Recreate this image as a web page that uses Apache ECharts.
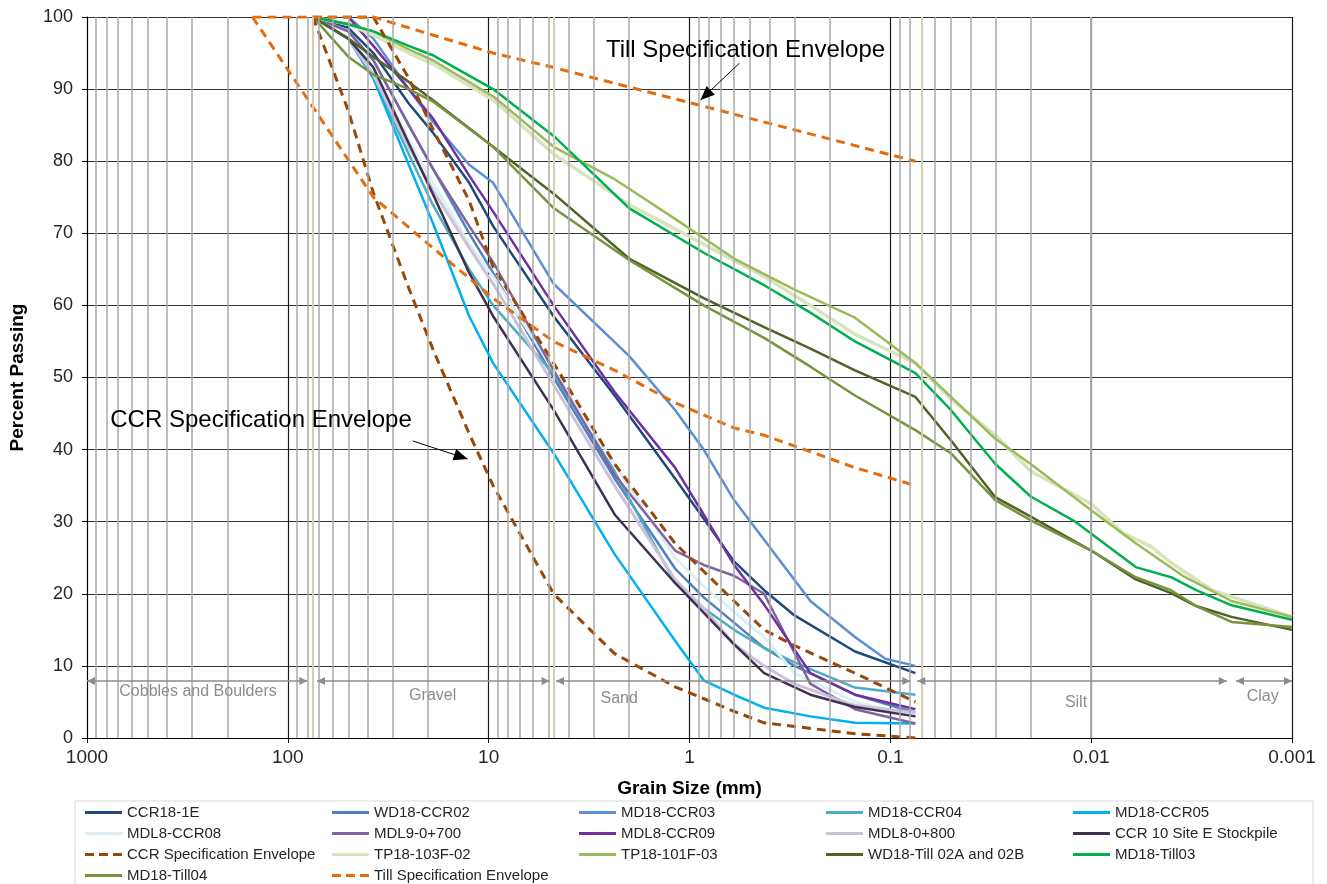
<!DOCTYPE html>
<html>
<head>
<meta charset="utf-8">
<script src="https://cdn.jsdelivr.net/npm/echarts@6/dist/echarts.min.js"></script>
<style>
  html, body { margin: 0; padding: 0; background: #fff; }
  #chart { width: 1327px; height: 884px; }
</style>
</head>
<body>
<div id="chart"></div>
<script>
// [grain size mm, percent passing]
const CCR18_1E = [[75,100],[50,98.5],[37.5,95],[25,88],[19,84],[12.5,77],[9.5,71],[4.75,58.5],[2.36,47.5],[1.18,36],[0.6,24.5],[0.425,20.5],[0.3,17],[0.15,12],[0.075,9]]
const WD18_CCR02 = [[75,100],[50,98],[37.5,94],[25,85],[19,79],[12.5,70],[9.5,64.5],[4.75,50],[2.36,36],[1.18,23.5],[0.85,19.5],[0.6,16],[0.425,12.5],[0.3,10],[0.15,6],[0.075,3.5]]
const MD18_CCR03 = [[50,100],[37.5,97],[25,90],[19,85.5],[12.5,79.5],[9.5,77],[4.75,63],[2,53],[1.18,45.5],[0.85,40],[0.6,33],[0.425,27.5],[0.25,19],[0.15,14],[0.106,11],[0.075,10]]
const MD18_CCR04 = [[75,100],[50,97],[37.5,91.5],[25,81],[19,74],[12.5,65],[9.5,60],[4.75,50.5],[2.36,37],[1.18,21.5],[0.85,18],[0.6,15],[0.425,12.5],[0.3,10.5],[0.15,7],[0.075,6]]
const MD18_CCR05 = [[75,100],[50,97],[37.5,91.5],[25,79.5],[19,71.5],[12.5,58.5],[9.5,52],[4.75,39.5],[2.36,25.5],[1.18,13.5],[0.85,8],[0.6,6],[0.425,4.2],[0.25,3],[0.15,2.1],[0.075,2]]
const MDL8_CCR08 = [[75,100],[50,98],[37.5,93],[25,83],[19,77],[12.5,68.5],[9.5,64],[4.75,51],[2.36,38],[1.18,25],[0.85,21],[0.6,17.5],[0.425,14],[0.3,9],[0.15,5],[0.075,3]]
const MDL9_0700 = [[75,100],[50,98],[37.5,94],[25,85],[19,79],[12.5,71],[9.5,66],[4.75,51],[2.36,36.5],[1.18,26],[0.85,24],[0.6,22.5],[0.425,20],[0.25,7.5],[0.15,4],[0.075,2]]
const MDL8_CCR09 = [[50,100],[37.5,96],[25,90],[19,86],[12.5,78],[9.5,73],[4.75,60],[2.36,48],[1.18,37.5],[0.85,31],[0.6,24],[0.425,18.5],[0.25,9],[0.15,6],[0.075,4]]
const MDL8_0800 = [[75,100],[50,97],[37.5,92],[25,82],[19,76],[12.5,68],[9.5,63],[4.75,49],[2.36,35],[1.18,22],[0.85,18],[0.6,13],[0.425,10],[0.3,7.5],[0.15,4.5],[0.075,3.5]]
const CCR10_STOCKPILE = [[75,100],[50,97],[37.5,93],[25,82.5],[19,75.5],[12.5,64.5],[9.5,58.5],[4.75,45.5],[2.36,31],[1.18,21.5],[0.6,13],[0.425,9],[0.25,6],[0.15,4.3],[0.075,3]]
const CCR_SPEC_UPPER = [[75,100],[37.5,100],[25,91.5],[19,84.5],[12.5,74.5],[9.5,65.3],[4.75,52],[2.36,38],[1.18,27],[0.6,19],[0.425,15],[0.3,12.8],[0.15,9],[0.075,5]]
const CCR_SPEC_LOWER = [[75,100],[50,87],[37.5,75.6],[25,62.4],[19,54],[12.5,42.2],[9.5,35],[4.75,20],[2.36,11.7],[1.18,7.1],[0.6,3.7],[0.425,2.1],[0.3,1.6],[0.15,0.6],[0.075,0]]
const TP18_103F_02 = [[75,100],[50,99],[37.5,97.5],[25,95],[19,93.5],[9.5,88.5],[4.75,81],[2,74],[0.85,68.5],[0.425,64],[0.25,60],[0.15,56],[0.075,52],[0.05,47],[0.03,42],[0.02,37],[0.01,32.5],[0.007,28.5],[0.005,26.5],[0.004,24.3],[0.0025,20.5],[0.001,16.8]]
const TP18_101F_03 = [[75,100],[50,99],[37.5,98],[25,95.5],[19,94],[9.5,89],[4.75,82],[2.36,77.5],[1.18,72],[0.6,66.5],[0.3,62.2],[0.15,58.3],[0.075,52],[0.03,41.5],[0.02,38],[0.01,31.6],[0.006,27],[0.0035,22.5],[0.002,19],[0.001,16.8]]
const WD18_TILL02 = [[75,100],[50,97],[37.5,94.5],[25,91],[19,88.5],[9.5,82],[4.75,75.5],[2,66.5],[0.85,61],[0.425,57],[0.25,54],[0.15,51],[0.075,47.3],[0.05,41.3],[0.03,33.4],[0.02,30.7],[0.01,26],[0.006,22],[0.004,20.1],[0.003,18.3],[0.002,16.8],[0.001,15]]
const MD18_TILL03 = [[75,100],[50,99],[37.5,98],[25,96],[19,94.7],[9.5,90],[4.75,83.5],[2,73.5],[0.85,67.3],[0.425,62.8],[0.25,59],[0.15,55],[0.075,50.6],[0.05,45.5],[0.03,38],[0.02,33.5],[0.012,30],[0.006,23.7],[0.004,22.3],[0.003,20.5],[0.002,18.4],[0.001,16.4]]
const MD18_TILL04 = [[75,100],[50,94.5],[37.5,92],[25,90],[19,88.3],[9.5,82],[4.75,73.5],[2,66.3],[0.85,60],[0.425,55.5],[0.25,51.5],[0.15,47.5],[0.075,42.7],[0.05,39.5],[0.03,33],[0.02,30.2],[0.01,26],[0.006,22.3],[0.004,20.5],[0.003,18.3],[0.002,16.1],[0.001,15.4]]
const TILL_SPEC_UPPER = [[150,100],[37.5,100],[19,97.5],[9.5,95],[4.75,93],[0.075,80]]
const TILL_SPEC_LOWER = [[150,100],[75,87.5],[37.5,75],[19,68],[9.5,61],[4.75,55],[2.36,51],[1.18,46.5],[0.6,43],[0.425,42],[0.3,40.5],[0.15,37.5],[0.075,35]]

// soil class limits (mm) and labels
const classBounds = [75, 4.75, 0.075, 0.002]
const classNames = ['Cobbles and Boulders', 'Gravel', 'Sand', 'Silt', 'Clay']
const classSpans = [[1000, 80], [71.6, 4.97], [4.62, 0.0795], [0.0735, 0.00211], [0.0019, 0.001]]
const classLabelAt = [[280, 6.4], [19, 5.9], [2.24, 5.5], [0.0119, 4.85], [0.0014, 5.7]]
const classArrowLevel = 7.9

// callouts: text anchor, arrow start, arrow tip  [mm, %]
const callouts = [
  {text: 'Till Specification Envelope', at: [0.526, 95.4], from: [0.564, 93.6], to: [0.881, 88.5]},
  {text: 'CCR Specification Envelope', at: [136, 44], from: [23.9, 41.2], to: [12.72, 38.7]}
]

const FONT = '"Liberation Sans", Arial, sans-serif'

const seriesDefs = [
  {name: 'CCR18-1E', data: CCR18_1E, color: '#1f497d'},
  {name: 'WD18-CCR02', data: WD18_CCR02, color: '#4f81bd'},
  {name: 'MD18-CCR03', data: MD18_CCR03, color: '#5a8fd6'},
  {name: 'MD18-CCR04', data: MD18_CCR04, color: '#4bacc6'},
  {name: 'MD18-CCR05', data: MD18_CCR05, color: '#00b0f0'},
  {name: 'MDL8-CCR08', data: MDL8_CCR08, color: '#dbeef4', width: 3},
  {name: 'MDL9-0+700', data: MDL9_0700, color: '#8064a2'},
  {name: 'MDL8-CCR09', data: MDL8_CCR09, color: '#7030a0'},
  {name: 'MDL8-0+800', data: MDL8_0800, color: '#ccc1da', width: 3},
  {name: 'CCR 10 Site E Stockpile', data: CCR10_STOCKPILE, color: '#403151'},
  {name: 'TP18-103F-02', data: TP18_103F_02, color: '#d7e4bd', width: 3.5},
  {name: 'TP18-101F-03', data: TP18_101F_03, color: '#9bbb59'},
  {name: 'WD18-Till 02A and 02B', data: WD18_TILL02, color: '#4f6228'},
  {name: 'MD18-Till03', data: MD18_TILL03, color: '#00b050'},
  {name: 'MD18-Till04', data: MD18_TILL04, color: '#77933c'},
  {name: 'CCR Specification Envelope', data: CCR_SPEC_UPPER, color: '#984807', dashed: true},
  {name: 'CCR Specification Envelope', data: CCR_SPEC_LOWER, color: '#984807', dashed: true},
  {name: 'Till Specification Envelope', data: TILL_SPEC_UPPER, color: '#e46c0a', dashed: true},
  {name: 'Till Specification Envelope', data: TILL_SPEC_LOWER, color: '#e46c0a', dashed: true}
]

// legend entries, row by row (5 per row)
const legendOrder = [
  'CCR18-1E', 'WD18-CCR02', 'MD18-CCR03', 'MD18-CCR04', 'MD18-CCR05',
  'MDL8-CCR08', 'MDL9-0+700', 'MDL8-CCR09', 'MDL8-0+800', 'CCR 10 Site E Stockpile',
  'CCR Specification Envelope', 'TP18-103F-02', 'TP18-101F-03', 'WD18-Till 02A and 02B', 'MD18-Till03',
  'MD18-Till04', 'Till Specification Envelope'
]
const dashedNames = ['CCR Specification Envelope', 'Till Specification Envelope']
const SOLID_ICON = 'path://M0,0H37V3H0Z'
const DASH_ICON = 'path://M0,0H9V3H0Z M14,0H23V3H14Z M28,0H37V3H28Z'

// minor log grid lines 2..9 of each decade
const minorLines = []
for (let e = -3; e <= 2; e++) {
  for (let k = 2; k <= 9; k++) minorLines.push(Number((k * Math.pow(10, e)).toPrecision(3)))
}

const chart = echarts.init(document.getElementById('chart'))

const series = [
  {
    type: 'line', name: '_grid', data: [], silent: true, z: 1,
    markLine: {
      silent: true, symbol: 'none', animation: false,
      label: {show: false},
      lineStyle: {color: '#a9a9a9', type: 'solid', width: 1.5},
      data: minorLines.map(v => ({xAxis: v}))
    }
  },
  {
    type: 'line', name: '_class', data: [], silent: true, z: 1,
    markLine: {
      silent: true, symbol: 'none', animation: false,
      label: {show: false},
      lineStyle: {color: '#d2ceb2', type: 'solid', width: 2},
      data: classBounds.map(v => ({xAxis: v}))
    }
  }
]
seriesDefs.forEach(s => {
  series.push({
    type: 'line',
    name: s.name,
    data: s.data,
    symbol: 'none',
    showSymbol: false,
    animation: false,
    z: 3,
    color: s.color,
    lineStyle: {
      color: s.color,
      width: s.dashed ? 3 : (s.width || 2.5),
      type: s.dashed ? [9, 6] : 'solid'
    }
  })
})

chart.setOption({
  animation: false,
  grid: {left: 86, right: 35, top: 17, bottom: 146},
  legend: {
    data: legendOrder.map(n => ({name: n, icon: dashedNames.includes(n) ? DASH_ICON : SOLID_ICON})),
    orient: 'horizontal',
    left: 85,
    top: 802,
    width: 1242,
    padding: 0,
    itemWidth: 37,
    itemHeight: 3,
    itemGap: 0,
    selectedMode: false,
    textStyle: {fontFamily: FONT, fontSize: 15, color: '#262626', width: 205, lineHeight: 21, overflow: 'truncate'}
  },
  xAxis: {
    type: 'log',
    logBase: 10,
    min: 0.001,
    max: 1000,
    inverse: true,
    name: 'Grain Size (mm)',
    nameLocation: 'middle',
    nameGap: 41,
    nameTextStyle: {fontFamily: FONT, fontSize: 19, fontWeight: 'bold', color: '#000'},
    axisLine: {show: true, lineStyle: {color: '#000', width: 1}},
    axisTick: {show: true, length: 5, lineStyle: {color: '#000'}},
    axisLabel: {
      fontFamily: FONT, fontSize: 19, color: '#262626', margin: 10,
      formatter: v => String(Number(Number(v).toPrecision(3)))
    },
    splitLine: {show: true, lineStyle: {color: '#1a1a1a', width: 1.2}}
  },
  yAxis: {
    type: 'value',
    min: 0,
    max: 100,
    interval: 10,
    name: 'Percent Passing',
    nameLocation: 'middle',
    nameGap: 60,
    nameTextStyle: {fontFamily: FONT, fontSize: 19, fontWeight: 'bold', color: '#000'},
    axisLine: {show: true, lineStyle: {color: '#000', width: 1}},
    axisTick: {show: true, length: 5, lineStyle: {color: '#000'}},
    axisLabel: {fontFamily: FONT, fontSize: 18, color: '#262626', margin: 14},
    splitLine: {show: true, lineStyle: {color: '#333', width: 1.2}}
  },
  series: series
})

// annotations placed through the axis scales
const px = (d, v) => chart.convertToPixel({xAxisIndex: 0, yAxisIndex: 0}, [d, v])

function arrowHead(tip, from, len, half, color) {
  const dx = tip[0] - from[0], dy = tip[1] - from[1]
  const l = Math.sqrt(dx * dx + dy * dy)
  const ux = dx / l, uy = dy / l
  const bx = tip[0] - ux * len, by = tip[1] - uy * len
  return {
    type: 'polygon', silent: true, z: 10,
    shape: {points: [tip, [bx - uy * half, by + ux * half], [bx + uy * half, by - ux * half]]},
    style: {fill: color}
  }
}

const graphics = []
graphics.push({
  type: 'rect', silent: true, z: 0,
  shape: {x: 75, y: 801, width: 1238, height: 110},
  style: {fill: 'none', stroke: '#d9d9d9', lineWidth: 1}
})

classSpans.forEach((span, i) => {
  const a = px(span[0], classArrowLevel), b = px(span[1], classArrowLevel)
  graphics.push({
    type: 'line', silent: true, z: 9,
    shape: {x1: a[0], y1: a[1], x2: b[0], y2: b[1]},
    style: {stroke: '#8c8c8c', lineWidth: 1.5}
  })
  graphics.push(arrowHead(a, b, 8, 4, '#8c8c8c'))
  graphics.push(arrowHead(b, a, 8, 4, '#8c8c8c'))
  const t = px(classLabelAt[i][0], classLabelAt[i][1])
  graphics.push({
    type: 'text', silent: true, z: 9, x: t[0], y: t[1],
    style: {text: classNames[i], fill: '#8c8c8c', font: '16px ' + FONT, align: 'center', verticalAlign: 'middle'}
  })
})

callouts.forEach(c => {
  const t = px(c.at[0], c.at[1])
  graphics.push({
    type: 'text', silent: true, z: 10, x: t[0], y: t[1],
    style: {text: c.text, fill: '#000', font: '24px ' + FONT, align: 'center', verticalAlign: 'middle'}
  })
  const a = px(c.from[0], c.from[1]), b = px(c.to[0], c.to[1])
  graphics.push({
    type: 'line', silent: true, z: 10,
    shape: {x1: a[0], y1: a[1], x2: b[0], y2: b[1]},
    style: {stroke: '#000', lineWidth: 1}
  })
  graphics.push(arrowHead(b, a, 14, 6, '#000'))
})

chart.setOption({graphic: graphics})
</script>
</body>
</html>
